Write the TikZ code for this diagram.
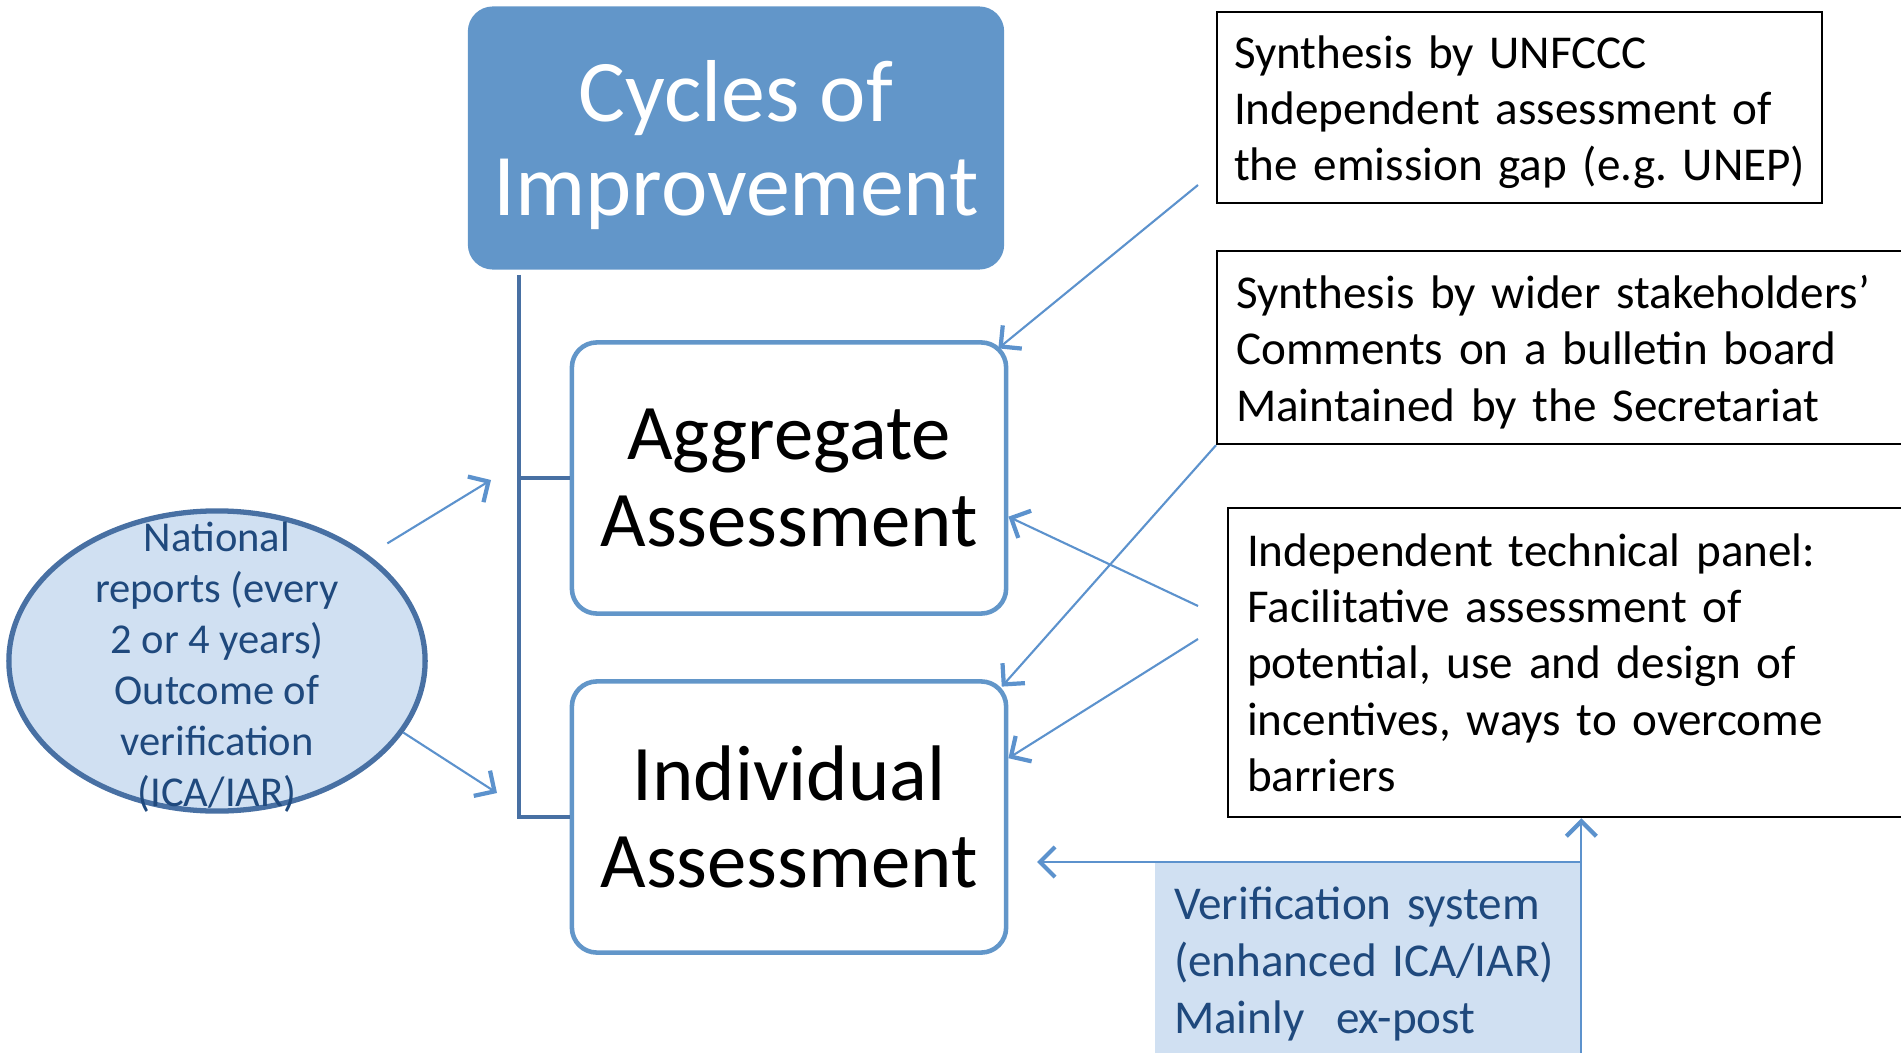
\documentclass[tikz,border=0pt]{standalone}
\usepackage{fontspec}
\setmainfont{Carlito}
\usetikzlibrary{positioning,arrows.meta,shapes.geometric}
\definecolor{headblue}{RGB}{98,150,201}
\definecolor{linkblue}{RGB}{72,112,163}
\definecolor{paleblue}{RGB}{208,224,242}
\definecolor{inkblue}{RGB}{31,73,125}
\definecolor{arrowblue}{RGB}{92,146,205}
\frenchspacing

\begin{document}
\begin{tikzpicture}[x=0.01cm, y=-0.01cm,
    head/.style = {fill=headblue, rounded corners=0.25cm, text=white, minimum width=5.36cm, minimum height=2.63cm, text depth=0pt, align=center, font=\fontsize{25}{27}\selectfont},
    assess/.style = {draw=headblue, line width=1.3pt, rounded corners=0.25cm, minimum width=4.34cm, minimum height=2.71cm, align=center, font=\fontsize{22.4}{24.8}\selectfont},
    note/.style = {draw, line width=0.6pt, anchor=north west, align=left, inner sep=0.19cm, font=\fontsize{13.4}{16}\selectfont},
    link/.style = {linkblue, line width=1.2pt},
    feed/.style = {arrowblue, line width=0.6pt, -{Straight Barb[length=0.15cm, width=0.3cm, line width=1.2pt]}}]
    \useasboundingbox (0,0) rectangle (1901,1052);
    \clip (0,0) rectangle (1901,1052);

    % main column
    \node[head] (title) at (736,138) {Cycles of\\Improvement};
    \node[assess] (agg) at (789,478) {Aggregate\\Assessment};
    \node[assess] (ind) at (789,817) {Individual\\Assessment};
    \coordinate (trunk) at (519,275);
    \draw[link] (trunk) |- (agg.west);
    \draw[link] (trunk) |- (ind.west);

    % national reports
    \node[ellipse, draw=linkblue, line width=1.5pt, fill=paleblue, minimum width=4.16cm, minimum height=3.0cm, inner sep=0pt] (ell) at (217,661) {};
    \node[text=inkblue, align=center, font=\fontsize{12.1}{14.5}\selectfont] (ellnote) at (217,667) {National\\reports (every\\2 or 4 years)\\Outcome of\\verification\\(ICA/IAR)};

    % right hand boxes
    \node[note, inner xsep=0.17cm, inner ysep=0.08cm, text width=5.71cm, minimum height=1.91cm] (unf) at (1216,11) {\rule{0pt}{12pt}Synthesis by UNFCCC\\Independent assessment of\\the emission gap (e.g. UNEP)};
    \node[note, inner ysep=0.08cm, text width=7cm, minimum height=1.93cm] (syn) at (1216,250) {\rule{0pt}{12pt}Synthesis by wider stakeholders'\\Comments on a bulletin board\\Maintained by the Secretariat};
    \node[note, text width=7cm, minimum height=3.09cm] (tech) at (1227,507) {Independent technical panel:\\Facilitative assessment of\\potential, use and design of\\incentives, ways to overcome\\barriers};
    \node[note, draw=none, fill=paleblue, text=inkblue, inner ysep=0.24cm, text width=3.87cm, font=\fontsize{13.4}{16.2}\selectfont] (ver) at (1154,862) {Verification system\\(enhanced ICA/IAR)\\Mainly~ ex-post};
    \draw[arrowblue, line width=0.6pt] (ver.north east) -- (ver.south east);

    % arrows
    \coordinate (s1) at (1198,185);
    \coordinate (s3) at (1198,606);
    \coordinate (s4) at (1198,639);
    \coordinate (e1) at (491,480);
    \coordinate (e2) at (497,793);
    \coordinate (vtip) at (1037,862);
    \draw[feed, shorten >=-0.13cm] (s1) -- (agg.north east);
    \draw[feed, shorten >=-0.1cm] (syn.south west) -- (ind.north east);
    \draw[feed] (s3) -- (agg.-10);
    \draw[feed] (s4) -- (ind.15);
    \draw[feed, shorten <=0.22cm] (ell.35) -- (e1);
    \draw[feed] (ell.-21) -- (e2);
    \draw[feed] (ver.north east) -- (vtip);
    \draw[feed] (ver.north east) -- (ver.north east |- tech.south);
\end{tikzpicture}
\end{document}
